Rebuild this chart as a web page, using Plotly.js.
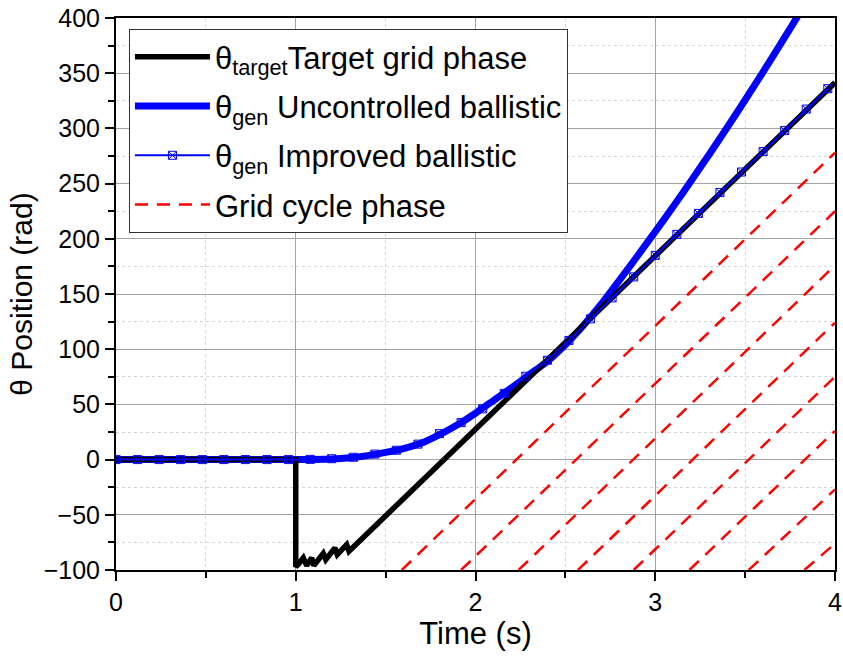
<!DOCTYPE html>
<html>
<head>
<meta charset="utf-8">
<script src="https://cdn.plot.ly/plotly-3.0.1.min.js"></script>
<style>html,body{margin:0;padding:0;background:#fff;}#chart{width:843px;height:657px;}</style>
</head>
<body>
<div id="chart"></div>
<script>
// Target grid phase (black)
var targetTime  = [0, 1.0, 1.0, 1.014, 1.042, 1.061, 1.089, 1.100, 1.153, 1.167, 1.218, 1.231, 1.283, 1.296, 2.0, 3.0, 4.0];
var targetPhase = [0, 0, -97, -95, -89, -96, -89, -96, -85, -90.5, -80, -86, -77, -83, 27.5, 184.5, 341.5];

// Uncontrolled ballistic (thick blue)
var uncTime  = [0, 0.5, 1.0, 1.1, 1.2, 1.3, 1.4, 1.5, 1.6, 1.7, 1.8, 1.9, 2.0, 2.1, 2.2, 2.3, 2.4, 2.5, 2.6, 2.7, 2.8, 2.9, 3.0, 3.1, 3.2, 3.3, 3.4, 3.5, 3.6, 3.7, 3.8, 3.9];
var uncPhase = [0, 0, 0, 0.1, 0.5, 1.6, 3.6, 6.5, 10, 15, 22.6, 31.5, 42, 53.5, 65, 77, 89, 104, 121.5, 141, 162.4, 184.2, 206.5, 229.2, 252.6, 276.4, 300.8, 325.7, 351.2, 377.2, 403.6, 430.5];

// Improved ballistic (thin blue with markers)
var impTime  = [0, 0.12, 0.24, 0.36, 0.48, 0.60, 0.72, 0.84, 0.96, 1.08, 1.20, 1.32, 1.44, 1.56, 1.68, 1.80, 1.92, 2.04, 2.16, 2.28, 2.40, 2.52, 2.64, 2.76, 2.88, 3.00, 3.12, 3.24, 3.36, 3.48, 3.60, 3.72, 3.84, 3.96];
var impPhase = [0, 0, 0, 0, 0, 0, 0, 0, 0, 0.2, 0.8, 2.1, 5.0, 8.5, 14, 23.5, 33.5, 46, 60, 75.5, 90, 108, 127.5, 146.5, 165.5, 185, 204, 223, 242, 260.5, 279, 298, 317.5, 336];

// Grid cycle phase (red dashed): start time at -100 rad, value at t = 4 s
var gridStartTime = [1.59, 1.92, 2.24, 2.57, 2.88, 3.19, 3.52, 3.83];
var gridEndPhase  = [278, 225, 176, 124, 75, 26, -27, -76];
var gridBottom = -100, gridEndTime = 4;

var legendNames = [
  "θ<sub>target</sub>Target grid phase",
  "θ<sub>gen</sub> Uncontrolled ballistic",
  "θ<sub>gen</sub> Improved ballistic",
  "Grid cycle phase"
];

var gx = [], gy = [];
for (var i = 0; i < gridStartTime.length; i++) {
  gx.push(gridStartTime[i], gridEndTime, null);
  gy.push(gridBottom, gridEndPhase[i], null);
}

var FONT = "Liberation Sans";

var traces = [
  {x: uncTime, y: uncPhase, mode: "lines", name: legendNames[1], legendrank: 2, legendgroup: "b",
   line: {color: "#0000ff", width: 7, shape: "spline", smoothing: 0.6}},
  {x: targetTime, y: targetPhase, mode: "lines", name: legendNames[0], legendrank: 1, legendgroup: "a",
   line: {color: "#000000", width: 5.5}},
  {x: impTime, y: impPhase, mode: "lines+markers", name: legendNames[2], legendrank: 3, legendgroup: "c",
   line: {color: "#0000ff", width: 2},
   marker: {symbol: "square-x-open", size: 8, color: "#0000ff", line: {width: 1, color: "#0000ff"}}},
  {x: gx, y: gy, mode: "lines", name: legendNames[3], legendrank: 4, legendgroup: "d", connectgaps: false,
   line: {color: "#ff0000", width: 2.5, dash: "13px,9px"}}
];

var axisCommon = {
  showline: true, linewidth: 2, linecolor: "#000", mirror: true,
  ticks: "outside", tickwidth: 2, tickcolor: "#000",
  showgrid: true, gridcolor: "#a3a3a3", gridwidth: 1, zeroline: false,
  tickfont: {family: FONT, size: 25, color: "#000"}
};

var layout = {
  width: 843, height: 657,
  margin: {l: 116, r: 8, t: 18, b: 87, pad: 0},
  paper_bgcolor: "#fff", plot_bgcolor: "#fff",
  font: {family: FONT, color: "#000"},
  showlegend: true,
  legend: {x: 0.018, y: 0.98, xanchor: "left", yanchor: "top",
    bgcolor: "#fff", bordercolor: "#333", borderwidth: 1,
    traceorder: "grouped", tracegroupgap: 6,
    font: {family: FONT, size: 31, color: "#000"}, itemwidth: 75},
  xaxis: Object.assign({}, axisCommon, {
    range: [0, 4], tick0: 0, dtick: 1, ticklen: 9,
    minor: {dtick: 0.5, ticks: "outside", ticklen: 6, tickwidth: 2, tickcolor: "#000",
      showgrid: true, gridcolor: "#d6d6d6", griddash: "3px,3px", gridwidth: 1},
    title: {text: "Time (s)", font: {family: FONT, size: 31}, standoff: 6}
  }),
  yaxis: Object.assign({}, axisCommon, {
    range: [-100, 400], tick0: 0, dtick: 50, ticklen: 9,
    minor: {dtick: 25, ticks: "outside", ticklen: 6, tickwidth: 2, tickcolor: "#000",
      showgrid: true, gridcolor: "#d6d6d6", griddash: "3px,3px", gridwidth: 1},
    title: {text: "θ Position (rad)", font: {family: FONT, size: 30}, standoff: 2}
  })
};

Plotly.newPlot("chart", traces, layout, {displayModeBar: false, staticPlot: true});
</script>
</body>
</html>
